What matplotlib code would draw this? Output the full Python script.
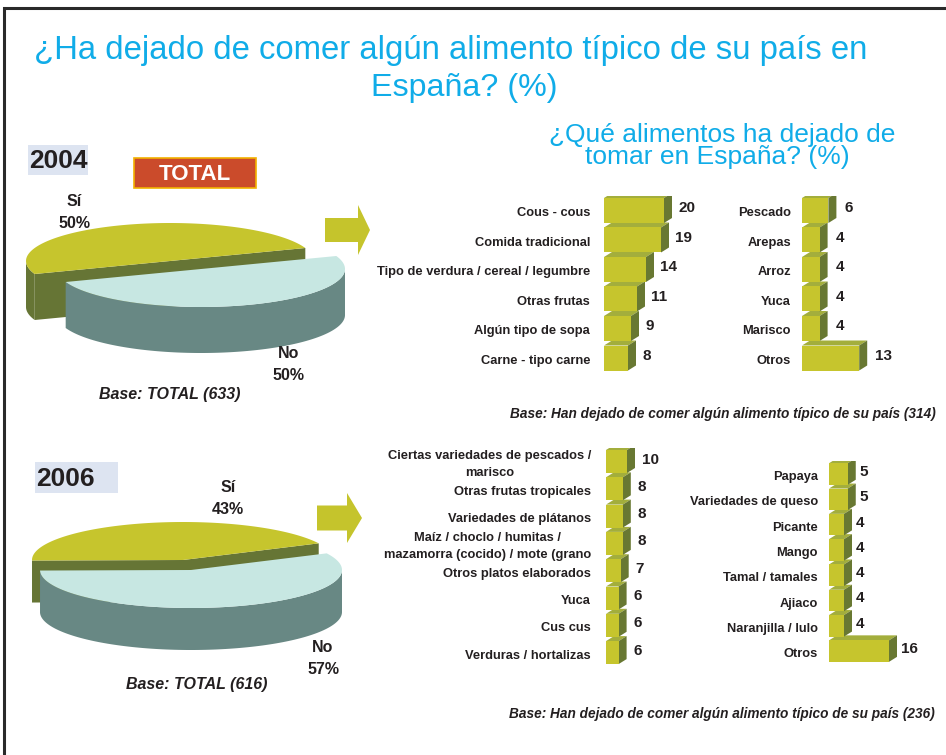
import numpy as np
import matplotlib
matplotlib.use("Agg")
import matplotlib.pyplot as plt
from matplotlib.patches import Polygon, Rectangle

plt.rcParams['font.family'] = ['Liberation Sans', 'DejaVu Sans']

# ---------------- data ----------------
pie_labels = ["Sí", "No"]
pie_2004 = [50, 50]
pie_2006 = [43, 57]
base_total_2004 = 633
base_total_2006 = 616
base_sub_2004 = 314
base_sub_2006 = 236

foods_2004_a = ["Cous - cous", "Comida tradicional", "Tipo de verdura / cereal / legumbre",
                "Otras frutas", "Algún tipo de sopa", "Carne - tipo carne"]
vals_2004_a = [20, 19, 14, 11, 9, 8]
foods_2004_b = ["Pescado", "Arepas", "Arroz", "Yuca", "Marisco", "Otros"]
vals_2004_b = [6, 4, 4, 4, 4, 13]

foods_2006_a = ["Ciertas variedades de pescados /\nmarisco", "Otras frutas tropicales",
                "Variedades de plátanos",
                "Maíz / choclo / humitas /\nmazamorra (cocido) / mote (grano",
                "Otros platos elaborados", "Yuca", "Cus cus", "Verduras / hortalizas"]
vals_2006_a = [10, 8, 8, 8, 7, 6, 6, 6]
foods_2006_b = ["Papaya", "Variedades de queso", "Picante", "Mango", "Tamal / tamales",
                "Ajiaco", "Naranjilla / lulo", "Otros"]
vals_2006_b = [5, 5, 4, 4, 4, 4, 4, 16]

# ---------------- styling ----------------
W, H = 946, 755
BLUE = "#10ACE8"
TXT = "#231F20"
FRONT = "#C6C52D"
TOPF = "#A3AE3C"
SIDE = "#687832"
SI_TOP, SI_SIDE = "#C6C52D", "#667535"
NO_TOP, NO_SIDE = "#C7E7E2", "#688884"

fig = plt.figure(figsize=(W / 100, H / 100), dpi=100)
canvas = fig.add_axes([0, 0, 1, 1])
canvas.set_xlim(0, W)
canvas.set_ylim(H, 0)
canvas.axis("off")

# frame
canvas.plot([4, 4, W + 5], [H + 5, 8, 8], color="#2A2A2A", lw=2.2, solid_joinstyle="miter")

# titles
canvas.text(451, 50, "¿Ha dejado de comer algún alimento típico de su país en",
            color=BLUE, fontsize=23.7, ha="center", va="center")
canvas.text(464, 88, "España? (%)", color=BLUE, fontsize=23.2, ha="center", va="center")
canvas.text(722, 135, "¿Qué alimentos ha dejado de", color=BLUE, fontsize=19,
            ha="center", va="center")
canvas.text(717, 157, "tomar en España? (%)", color=BLUE, fontsize=19,
            ha="center", va="center")

# year boxes
for (x0, y0, w, h, year) in [(28, 145, 60, 30, "2004"), (35, 462, 83, 31, "2006")]:
    canvas.add_patch(Rectangle((x0, y0), w, h, color="#DDE4F1", lw=0))
    canvas.text(x0 + 1, y0 + h / 2 + 1, year, fontsize=19, fontweight="bold",
                color=TXT, ha="left", va="center")

# TOTAL badge
canvas.add_patch(Rectangle((134, 158), 122, 30, facecolor="#CB4B2B",
                           edgecolor="#F2B100", lw=1.2))
canvas.text(195, 174, "TOTAL", fontsize=16, fontweight="bold", color="white",
            ha="center", va="center")

# block arrows
def block_arrow(x0, x1, xtip, yc, body_h, head_h):
    pts = [(x0, yc - body_h / 2), (x1, yc - body_h / 2), (x1, yc - head_h / 2),
           (xtip, yc), (x1, yc + head_h / 2), (x1, yc + body_h / 2), (x0, yc + body_h / 2)]
    canvas.add_patch(Polygon(pts, closed=True, color="#C5C42C", lw=0))

block_arrow(325, 358, 370, 230, 24, 50)
block_arrow(317, 347, 362, 518, 25, 50)


# ---------------- 3D pies ----------------
def ellipse_pts(cx, cy, a, b, t1, t2, n=120):
    t = np.radians(np.linspace(t1, t2, n))
    return np.column_stack([cx + a * np.cos(t), cy - b * np.sin(t)])


def pie3d(values, centers, a, b, depth, start):
    fr = np.asarray(values, float) / np.sum(values)
    spans = []
    t = start
    for f in fr:
        spans.append((t, t + 360 * f))
        t += 360 * f
    mids = [np.sin(np.radians((s + e) / 2)) for s, e in spans]
    order = np.argsort(mids)[::-1]  # back slices first
    tops = [SI_TOP, NO_TOP]
    sides = [SI_SIDE, NO_SIDE]
    for k in order:
        s, e = spans[k]
        cx, cy = centers[k]
        # cut faces facing the viewer
        for ang, visible in [(s, np.cos(np.radians(s)) > 0), (e, np.cos(np.radians(e)) < 0)]:
            if visible:
                rx = cx + a * np.cos(np.radians(ang))
                ry = cy - b * np.sin(np.radians(ang))
                canvas.add_patch(Polygon([(cx, cy), (rx, ry), (rx, ry + depth), (cx, cy + depth)],
                                         closed=True, color=sides[k], lw=0))
        # outer wall (front half only)
        for lo, hi in [(180, 360), (540, 720)]:
            w1, w2 = max(s, lo), min(e, hi)
            if w2 > w1:
                rim = ellipse_pts(cx, cy, a, b, w1, w2)
                low = rim + np.array([0, depth])
                canvas.add_patch(Polygon(np.vstack([rim, low[::-1]]), closed=True,
                                         color=sides[k], lw=0))
        # top surface
        rim = ellipse_pts(cx, cy, a, b, s, e)
        canvas.add_patch(Polygon(np.vstack([[cx, cy], rim]), closed=True,
                                 color=tops[k], lw=0))


pie3d(pie_2004, [(170, 261), (201, 269)], 144, 38, 46, 20)
pie3d(pie_2006, [(183, 560), (191, 570)], 151, 38, 42, 26)

PCT = dict(fontsize=11.5, fontweight="bold", color=TXT, ha="center", va="center")
canvas.text(74, 201, pie_labels[0], **PCT)
canvas.text(74, 223, f"{pie_2004[0]}%", **PCT)
canvas.text(289, 353, pie_labels[1], **PCT)
canvas.text(288, 375, f"{pie_2004[1]}%", **PCT)
canvas.text(228, 488, pie_labels[0], **PCT)
canvas.text(228, 509, f"{pie_2006[0]}%", **PCT)
canvas.text(323, 648, pie_labels[1], **PCT)
canvas.text(323, 669, f"{pie_2006[1]}%", **PCT)

BASE = dict(fontsize=11.5, fontweight="bold", fontstyle="italic", color=TXT,
            ha="center", va="center")
canvas.text(170, 395, f"Base: TOTAL ({base_total_2004})", **BASE)
canvas.text(197, 685, f"Base: TOTAL ({base_total_2006})", **BASE)

SUB = dict(fontsize=9.8, fontweight="bold", fontstyle="italic", color=TXT,
           ha="center", va="center")
canvas.text(723, 414, "Base: Han dejado de comer algún alimento típico de su país "
            f"({base_sub_2004})", **SUB)
canvas.text(722, 714, "Base: Han dejado de comer algún alimento típico de su país "
            f"({base_sub_2006})", **SUB)


# ---------------- 3D bar panels ----------------
def bar_panel(x0, y_first, step, sx, xmax, labels, values, bar_px,
              label_pad, value_pad, dxp=8, dyp=5):
    n = len(values)
    top = y_first - step / 2
    bottom = top + n * step
    ax = fig.add_axes([x0 / W, 1 - bottom / H, xmax * sx / W, n * step / H])
    ax.set_xlim(0, xmax)
    ax.set_ylim(n - 0.5, -0.5)
    ax.axis("off")
    ax.patch.set_alpha(0)
    rows = np.arange(n)
    h = bar_px / step
    bars = ax.barh(rows, values, height=h, color=FRONT, lw=0)
    dx, dy = dxp / sx, dyp / step
    for i, (v, bar) in enumerate(zip(values, bars)):
        z = 2 + (n - i)
        y0, y1 = i - h / 2, i + h / 2
        ax.add_patch(Polygon([(0, y0), (v, y0), (v + dx, y0 - dy), (dx, y0 - dy)],
                             closed=True, color=TOPF, lw=0, zorder=z))
        ax.add_patch(Polygon([(v, y0), (v, y1), (v + dx, y1 - dy), (v + dx, y0 - dy)],
                             closed=True, color=SIDE, lw=0, zorder=z))
        bar.set_zorder(z + 0.5)
        ax.text(-label_pad / sx, i + 3 / step, labels[i], ha="right", va="center",
                multialignment="center", fontsize=9.3, fontweight="bold", color=TXT,
                linespacing=1.55)
        ax.text(v + value_pad / sx, i - 2 / step, str(v), ha="left", va="center",
                fontsize=11, fontweight="bold", color=TXT)
    return ax


bar_panel(604, 210.5, 29.5, 3.0, 30, foods_2004_a, vals_2004_a, 25, 14, 14)
bar_panel(802, 210.5, 29.5, 4.4, 20, foods_2004_b, vals_2004_b, 25, 11, 16)
bar_panel(606, 461.5, 27.3, 2.1, 20, foods_2006_a, vals_2006_a, 23, 15, 15)
bar_panel(829, 474, 25.3, 3.75, 20, foods_2006_b, vals_2006_b, 21.5, 11, 12)

fig.savefig("out.png", dpi=100)
